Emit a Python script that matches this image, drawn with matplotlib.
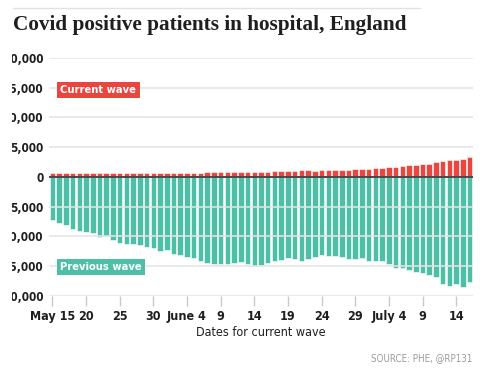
"""
Covid positive patients in hospital, England - current vs previous wave.
"""

import pandas as pd
import matplotlib
matplotlib.use("Agg")
import matplotlib.pyplot as plt
from matplotlib.lines import Line2D
from matplotlib.patches import Rectangle

# ── Config ──────────────────────────────────────────────────────────────
RED = "#e8463f"
TEAL = "#4dbfa6"
INK = "#1f1f1f"
GRID = "#e4e4e4"
MUTED = "#9a9a9a"
NARROW = dict(family="DejaVu Sans", fontstretch="condensed")

# ── Data ────────────────────────────────────────────────────────────────
dates = pd.date_range("2021-05-15", "2021-07-16", freq="D")

current_wave = [
    640, 630, 620, 620, 610, 600, 600, 590, 590, 600,
    600, 600, 610, 600, 600, 610, 620, 620, 630, 640,
    650, 660, 680, 760, 780, 790, 790, 780, 790, 800,
    790, 790, 900, 1010, 1040, 1010, 960, 1130, 1130, 1070,
    1130, 1130, 1130, 1240, 1240, 1300, 1350, 1410, 1460, 1520,
    1630, 1750, 1850, 1970, 2020, 2190, 2250, 2470, 2640, 2810,
    2930, 3100, 3320,
]

previous_wave = [
    7290, 7680, 8000, 8700, 9150, 9300, 9480, 10040, 9870, 10630,
    11130, 11250, 11210, 11440, 11780, 11950, 12460, 12230, 12880, 13120,
    13500, 13700, 14050, 14500, 14650, 14700, 14650, 14400, 14350, 14700,
    14980, 14720, 14420, 14070, 14000, 13540, 13770, 14050, 13830, 13430,
    13180, 13220, 13240, 13460, 13860, 13860, 13690, 14080, 14190, 14190,
    14700, 15320, 15320, 15650, 15930, 16100, 16430, 16830, 17950, 18350,
    18070, 18520, 17700,
]

x_tick_labels = ["May 15", "20", "25", "30", "June 4", "9", "14", "19",
                 "24", "29", "July 4", "9", "14"]
y_ticks = [-20000, -15000, -10000, -5000, 0, 5000, 10000, 15000, 20000]

# ── Figure ──────────────────────────────────────────────────────────────
fig = plt.figure(figsize=(5, 3.68), dpi=100)
ax = fig.add_axes([0.098, 0.1957, 0.848, 0.6467])

ax.bar(dates, current_wave, width=0.82, color=RED, edgecolor="white",
       linewidth=0.4, zorder=2)
ax.bar(dates, [-v for v in previous_wave], width=0.82, color=TEAL,
       edgecolor="white", linewidth=0.4, zorder=2)

ax.axhline(0, color=INK, linewidth=1.1, zorder=4)

one_day = pd.Timedelta(days=1)
ax.set_xlim(dates[0] - one_day / 2, dates[-1] + one_day / 2)
ax.set_ylim(-20000, 20000)

ax.set_yticks(y_ticks)
ax.set_yticklabels([f"{abs(v):,}" for v in y_ticks], fontsize=8.5,
                   fontweight="bold", color=INK, **NARROW)
ax.tick_params(axis="y", length=0, pad=4)

ax.set_xticks(dates[::5])
ax.set_xticklabels(x_tick_labels, fontsize=9, fontweight="bold",
                   color=INK, **NARROW)
ax.tick_params(axis="x", length=7, width=1, color="#c8c8c8", pad=3)
ax.set_xlabel("Dates for current wave", fontsize=9, color=INK,
              labelpad=2, **NARROW)

ax.grid(axis="y", color=GRID, linewidth=1.4, alpha=0.8, zorder=3)
ax.set_axisbelow(False)
for side in ["top", "right", "left", "bottom"]:
    ax.spines[side].set_visible(False)

# series labels
ax.text(0.027, 14600, "Current wave", transform=ax.get_yaxis_transform(),
        ha="left", va="center", fontsize=8, fontweight="bold",
        color="white", zorder=5, **NARROW,
        bbox=dict(boxstyle="square,pad=0.3", fc=RED, ec="none"))
ax.text(0.027, -15130, "Previous wave", transform=ax.get_yaxis_transform(),
        ha="left", va="center", fontsize=8, fontweight="bold",
        color="white", zorder=5, **NARROW,
        bbox=dict(boxstyle="square,pad=0.3", fc=TEAL, ec="none"))

# header, rule and source
fig.add_artist(Line2D([13 / 500, 420 / 500], [1 - 8 / 368] * 2,
                      color="#e2e2e2", linewidth=1))
fig.text(13 / 500, 1 - 25 / 368, "Covid positive patients in hospital, England",
         ha="left", va="center", fontsize=15.3, fontweight="bold",
         family="Liberation Serif", color=INK)
fig.text(472 / 500, 1 - 358 / 368, "SOURCE: PHE, @RP131", ha="right",
         va="center", fontsize=7, color=MUTED, **NARROW)

# the graphic is clipped on its left edge
fig.add_artist(Rectangle((0, 0), 12 / 500, 1, transform=fig.transFigure,
                         facecolor="white", edgecolor="none", zorder=10))

fig.savefig("out.png", dpi=100, facecolor="white")
